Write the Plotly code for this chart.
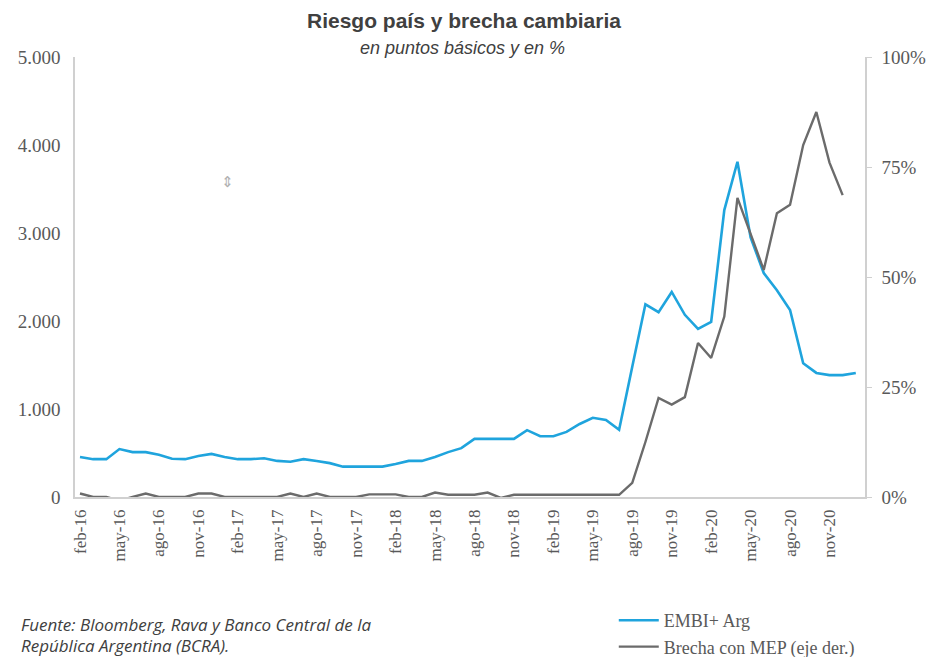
import plotly.graph_objects as go

months = (
    ["feb-16", "mar-16", "abr-16", "may-16", "jun-16", "jul-16", "ago-16", "sep-16", "oct-16", "nov-16", "dic-16"]
    + [m + "-17" for m in ["ene", "feb", "mar", "abr", "may", "jun", "jul", "ago", "sep", "oct", "nov", "dic"]]
    + [m + "-18" for m in ["ene", "feb", "mar", "abr", "may", "jun", "jul", "ago", "sep", "oct", "nov", "dic"]]
    + [m + "-19" for m in ["ene", "feb", "mar", "abr", "may", "jun", "jul", "ago", "sep", "oct", "nov", "dic"]]
    + [m + "-20" for m in ["ene", "feb", "mar", "abr", "may", "jun", "jul", "ago", "sep", "oct", "nov", "dic"]]
    + ["ene-21"]
)

embi = [
    455, 430, 430, 545, 510, 510, 480, 435, 430, 465, 490,
    455, 430, 430, 440, 410, 400, 430, 410, 385, 345, 345, 345,
    345, 375, 410, 410, 455, 510, 555, 660, 660, 660, 660, 760,
    690, 690, 740, 830, 900, 875, 765, 1480, 2190, 2100, 2330, 2070,
    1910, 1990, 3260, 3810, 2950, 2545, 2350, 2125, 1520, 1410, 1385, 1385,
    1410,
]

brecha = [
    0.8, 0, 0, -0.8, 0, 0.8, 0, 0, 0, 0.8, 0.8,
    0, 0, 0, 0, 0, 0.8, 0, 0.8, 0, 0, 0, 0.6,
    0.6, 0.6, 0, 0, 1, 0.5, 0.5, 0.5, 1, -0.2, 0.5, 0.5,
    0.5, 0.5, 0.5, 0.5, 0.5, 0.5, 0.5, 3.2, 12.5, 22.5, 21, 22.7,
    35, 31.6, 41, 68, 60, 51.6, 64.5, 66.4, 80, 87.5, 76, 68.6,
]

tick_months = ["feb-16", "may-16", "ago-16", "nov-16", "feb-17", "may-17", "ago-17", "nov-17",
               "feb-18", "may-18", "ago-18", "nov-18", "feb-19", "may-19", "ago-19", "nov-19",
               "feb-20", "may-20", "ago-20", "nov-20"]

left_ticks = [0, 1000, 2000, 3000, 4000, 5000]
right_ticks = [0, 25, 50, 75, 100]
right_labels = ["0%", "25%", "50%", "75%", "100%"]

BLUE = "#1fa4dd"
GRAY = "#6b6b6b"
TXT = "#595959"
AX = "#d0d0d0"

fig = go.Figure()
fig.add_trace(go.Scatter(x=months, y=embi, mode="lines", name="EMBI+ Arg",
                         line=dict(color=BLUE, width=2.6)))
fig.add_trace(go.Scatter(x=months[:len(brecha)], y=brecha, mode="lines",
                         name="Brecha con MEP (eje der.)", yaxis="y2",
                         line=dict(color=GRAY, width=2.4)))

serif = "Liberation Serif, Times New Roman, serif"
src_font = dict(family="Open Sans, sans-serif", size=17, color="#404040")

fig.update_layout(
    width=930, height=657,
    margin=dict(l=75, r=65, t=57, b=160),
    paper_bgcolor="white", plot_bgcolor="white",
    separators=",.",
    showlegend=True,
    legend=dict(x=0.682, xref="paper", y=1 - 602 / 657, yref="container",
                xanchor="left", yanchor="top",
                font=dict(family=serif, size=18, color=TXT),
                bgcolor="rgba(0,0,0,0)", tracegroupgap=0, itemwidth=40),
    xaxis=dict(type="category", range=[-0.38, 59.7],
               tickmode="array", tickvals=tick_months, ticktext=tick_months,
               tickangle=-90, tickfont=dict(family=serif, size=17, color=TXT),
               showline=True, linecolor=AX, linewidth=1.5, ticks="",
               showgrid=False, zeroline=False, ticklabelstandoff=4, automargin=False),
    yaxis=dict(range=[0, 5000], tickmode="array", tickvals=left_ticks,
               tickformat=",d", tickfont=dict(family=serif, size=19, color=TXT),
               showline=True, linecolor=AX, linewidth=1.5, ticks="",
               showgrid=False, zeroline=False, ticklabelstandoff=9, automargin=False),
    yaxis2=dict(range=[0, 100], overlaying="y", side="right", tickmode="array",
                tickvals=right_ticks, ticktext=right_labels,
                tickfont=dict(family=serif, size=19, color=TXT),
                showline=True, linecolor=AX, linewidth=1.5, ticks="outside",
                ticklen=5, tickcolor=AX, showgrid=False, zeroline=False,
                ticklabelstandoff=6, automargin=False),
    annotations=[
        dict(text="<b>Riesgo país y brecha cambiaria</b>", xref="paper", yref="paper",
             x=0.492, y=(497 - 20) / 440, xanchor="center", yanchor="middle", showarrow=False,
             font=dict(family="Liberation Sans Narrow, Arial Narrow, Liberation Sans, sans-serif",
                       size=21, color="#404040")),
        dict(text="<i>en puntos básicos y en %</i>", xref="paper", yref="paper",
             x=0.49, y=(497 - 48) / 440, xanchor="center", yanchor="middle", showarrow=False,
             font=dict(family="Liberation Sans Narrow, Arial Narrow, Liberation Sans, sans-serif",
                       size=18, color="#404040")),
        dict(text="<i>Fuente: Bloomberg, Rava y Banco Central de la</i>",
             xref="paper", yref="paper", x=(19 - 75) / 790, y=(497 - 624) / 440,
             xanchor="left", yanchor="middle", align="left", showarrow=False, font=src_font),
        dict(text="<i>República Argentina (BCRA).</i>",
             xref="paper", yref="paper", x=(19 - 75) / 790, y=(497 - 645) / 440,
             xanchor="left", yanchor="middle", align="left", showarrow=False, font=src_font),
        dict(text="⇕", xref="paper", yref="paper", x=(227 - 75) / 790, y=(497 - 182) / 440,
             xanchor="center", yanchor="middle", showarrow=False,
             font=dict(family="DejaVu Sans", size=15, color="#b0b0b0")),
    ],
)

fig.write_html("out.html", config={"displayModeBar": False},
               post_script="document.body.style.margin='0';document.body.style.overflow='hidden';")
